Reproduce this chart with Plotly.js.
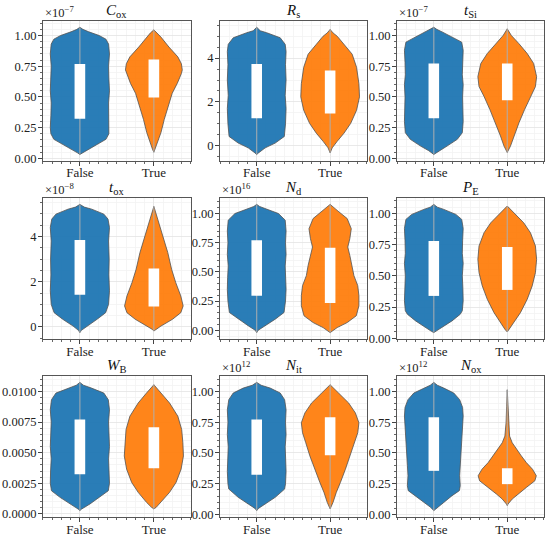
<!DOCTYPE html>
<html>
<head>
<meta charset="utf-8">
<script src="https://cdn.plot.ly/plotly-3.0.1.min.js"></script>
<style>
  html, body { margin: 0; padding: 0; background: #fff; }
  #graph { width: 550px; height: 536px; }
</style>
</head>
<body>
<div id="graph"></div>
<script>
// panel titles and the offset text matplotlib puts above the y axis
const titles = ['<i>C</i><sub>ox</sub>', '<i>R</i><sub>s</sub>', '<i>t</i><sub>Si</sub>',
                '<i>t</i><sub>ox</sub>', '<i>N</i><sub>d</sub>', '<i>P</i><sub>E</sub>',
                '<i>W</i><sub>B</sub>', '<i>N</i><sub>it</sub>', '<i>N</i><sub>ox</sub>'];
const exponents = ['−7', '', '−7', '−8', '16', '', '', '12', '12'];
const categories = ['False', 'True'];

// violin outlines: [value, relative half width], top to bottom
const coxF = [[1.067,0],[1.05,0.1],[1.03,0.3],[1.0,0.65],[0.97,0.88],[0.93,0.97],[0.85,1.0],[0.75,0.97],[0.65,0.98],[0.55,1.0],[0.45,0.97],[0.35,0.98],[0.25,1.0],[0.2,0.98],[0.155,0.88],[0.115,0.6],[0.075,0.3],[0.045,0.08],[0.032,0]];
const coxT = [[1.046,0],[1.02,0.12],[0.987,0.24],[0.906,0.51],[0.826,0.81],[0.77,0.93],[0.72,0.96],[0.69,0.93],[0.61,0.79],[0.53,0.62],[0.42,0.48],[0.316,0.35],[0.21,0.24],[0.129,0.13],[0.07,0.04],[0.05,0]];
const rsF = [[5.41,0],[5.25,0.12],[5.16,0.34],[4.93,0.8],[4.63,0.97],[4.3,1.0],[3.7,0.98],[3.0,1.0],[2.3,0.97],[1.7,1.0],[1.0,0.98],[0.42,0.94],[0.12,0.63],[-0.1,0.29],[-0.33,0.06],[-0.4,0]];
const rsT = [[5.31,0],[5.15,0.1],[5.0,0.24],[4.63,0.47],[4.18,0.75],[3.58,0.9],[2.83,0.98],[2.23,1.0],[1.62,0.9],[1.02,0.7],[0.57,0.47],[0.2,0.24],[-0.1,0.07],[-0.33,0]];
const tsiF = [[1.067,0],[1.05,0.1],[1.027,0.3],[0.987,0.63],[0.946,0.95],[0.88,1.0],[0.78,0.98],[0.68,0.97],[0.6,1.0],[0.5,0.98],[0.4,0.99],[0.3,1.0],[0.209,0.97],[0.155,0.8],[0.1,0.45],[0.062,0.17],[0.032,0]];
const tsiT = [[1.054,0],[1.0,0.14],[0.933,0.4],[0.853,0.68],[0.772,0.9],[0.665,1.0],[0.584,0.96],[0.504,0.79],[0.397,0.59],[0.29,0.4],[0.182,0.23],[0.1,0.11],[0.048,0]];
const toxF = [[5.42,0],[5.3,0.15],[5.21,0.4],[4.99,0.81],[4.77,0.95],[4.4,1.0],[3.8,0.97],[3.0,0.99],[2.3,0.98],[1.6,1.0],[1.0,0.97],[0.63,0.87],[0.34,0.58],[0.04,0.23],[-0.15,0.05],[-0.25,0]];
const toxT = [[5.33,0],[4.77,0.13],[4.03,0.3],[3.29,0.47],[2.55,0.6],[1.96,0.74],[1.37,0.91],[0.93,0.99],[0.63,0.91],[0.34,0.63],[0.04,0.24],[-0.1,0.06],[-0.18,0]];
const ndF = [[1.078,0],[1.06,0.1],[1.043,0.28],[1.0,0.74],[0.943,0.97],[0.85,1.0],[0.75,0.98],[0.65,1.0],[0.55,0.97],[0.45,0.99],[0.35,1.0],[0.25,0.98],[0.152,0.93],[0.095,0.63],[0.037,0.28],[0.0,0.05],[-0.02,0]];
const ndT = [[1.078,0],[1.05,0.12],[1.014,0.3],[0.957,0.58],[0.87,0.72],[0.784,0.67],[0.713,0.6],[0.641,0.67],[0.555,0.75],[0.468,0.81],[0.382,0.94],[0.296,0.98],[0.21,0.98],[0.124,0.89],[0.066,0.58],[0.023,0.24],[-0.02,0]];
const peF = [[1.072,0],[1.05,0.12],[1.032,0.34],[0.992,0.75],[0.952,0.95],[0.88,1.0],[0.78,0.98],[0.68,0.97],[0.6,1.0],[0.5,0.97],[0.4,0.99],[0.3,1.0],[0.22,0.97],[0.192,0.9],[0.139,0.62],[0.085,0.28],[0.055,0.08],[0.045,0]];
const peT = [[1.059,0],[1.005,0.23],[0.925,0.56],[0.845,0.79],[0.739,0.96],[0.632,1.0],[0.525,0.96],[0.419,0.85],[0.312,0.68],[0.205,0.45],[0.125,0.23],[0.072,0.08],[0.05,0]];
const wbF = [[0.01073,0],[0.0105,0.12],[0.01027,0.39],[0.00986,0.81],[0.00932,0.96],[0.0085,1.0],[0.0075,0.97],[0.0065,0.99],[0.0055,1.0],[0.0045,0.97],[0.0035,0.99],[0.0025,1.0],[0.00189,0.96],[0.00135,0.67],[0.00081,0.34],[0.0004,0.06],[0.00027,0]];
const wbT = [[0.01054,0],[0.00986,0.25],[0.00905,0.53],[0.00797,0.81],[0.00689,0.94],[0.00581,0.98],[0.00473,1.0],[0.00365,0.92],[0.00257,0.75],[0.00176,0.53],[0.00095,0.25],[0.00054,0.08],[0.00041,0]];
const nitF = [[1.073,0],[1.05,0.15],[1.027,0.46],[0.987,0.8],[0.933,0.95],[0.85,1.0],[0.75,0.98],[0.65,1.0],[0.55,0.97],[0.45,0.99],[0.35,1.0],[0.25,0.98],[0.207,0.95],[0.14,0.63],[0.086,0.29],[0.05,0.06],[0.032,0]];
const nitT = [[1.054,0],[0.987,0.29],[0.906,0.63],[0.825,0.86],[0.745,0.98],[0.664,0.94],[0.583,0.83],[0.476,0.69],[0.368,0.52],[0.261,0.35],[0.18,0.21],[0.1,0.1],[0.046,0]];
const noxF = [[1.073,0],[1.05,0.12],[1.027,0.34],[0.987,0.68],[0.933,0.88],[0.87,0.98],[0.8,1.0],[0.7,0.97],[0.6,0.95],[0.5,0.93],[0.4,0.9],[0.315,0.88],[0.234,0.9],[0.194,0.87],[0.153,0.62],[0.1,0.34],[0.059,0.11],[0.032,0]];
const noxT = [[1.013,0],[0.88,0.02],[0.745,0.04],[0.637,0.08],[0.583,0.17],[0.53,0.31],[0.476,0.48],[0.422,0.65],[0.368,0.86],[0.315,0.99],[0.274,0.94],[0.22,0.65],[0.167,0.37],[0.126,0.17],[0.086,0.03],[0.073,0]];

// interquartile boxes [q1, q3]
const boxFalse = [[0.322,0.767],[1.25,3.73],[0.327,0.772],[1.42,3.85],[0.296,0.77],[0.339,0.779],[0.00324,0.0077],[0.323,0.771],[0.355,0.79]];
const boxTrue  = [[0.496,0.804],[1.47,3.43],[0.472,0.772],[0.9,2.58],[0.233,0.707],[0.387,0.731],[0.00373,0.00708],[0.481,0.79],[0.247,0.376]];

const violinsFalse = [coxF, rsF, tsiF, toxF, ndF, peF, wbF, nitF, noxF];
const violinsTrue  = [coxT, rsT, tsiT, toxT, ndT, peT, wbT, nitT, noxT];

const colors = ['#1f77b4', '#ff7f0e'];
const halfWidth = 0.4;
const boxHalf = 0.072;
const serif = '"Liberation Serif", "DejaVu Serif", serif';

const colDomains = [[0.078, 0.347], [0.4, 0.667], [0.722, 0.989]];
const rowDomains = [[0.700, 0.961], [0.3675, 0.6306], [0.0354, 0.2985]];
// tick step, minor step, format per panel
const tickSteps = [[0.25,0.05,'.2f'],[2,0.5,'d'],[0.25,0.05,'.2f'],[2,0.5,'d'],[0.25,0.05,'.2f'],
                   [0.25,0.05,'.2f'],[0.0025,0.0005,'.4f'],[0.25,0.05,'.2f'],[0.25,0.05,'.2f']];

function outline(profile, center) {
    const right = profile.map(p => center + p[1] * halfWidth);
    const left = profile.map(p => center - p[1] * halfWidth).reverse();
    const ys = profile.map(p => p[0]);
    return { x: right.concat(left), y: ys.concat(ys.slice().reverse()) };
}

const data = [];
const layout = {
    width: 550, height: 536,
    margin: { l: 0, r: 0, t: 0, b: 0 },
    paper_bgcolor: '#fff', plot_bgcolor: '#fff',
    showlegend: false,
    font: { family: serif, size: 13, color: '#222' },
    annotations: []
};

for (let i = 0; i < 9; i++) {
    const n = i + 1;
    const xa = n === 1 ? 'x' : 'x' + n;
    const ya = n === 1 ? 'y' : 'y' + n;
    const groups = [violinsFalse[i], violinsTrue[i]];
    const boxes = [boxFalse[i], boxTrue[i]];
    let lo = Infinity, hi = -Infinity;

    groups.forEach((prof, c) => {
        const o = outline(prof, c);
        data.push({
            type: 'scatter', mode: 'lines', x: o.x, y: o.y, xaxis: xa, yaxis: ya,
            fill: 'toself', fillcolor: colors[c], opacity: 0.95,
            line: { color: '#4a4a4a', width: 0.8 }, hoverinfo: 'skip'
        });
        const top = prof[0][0], bottom = prof[prof.length - 1][0];
        lo = Math.min(lo, bottom); hi = Math.max(hi, top);
        // whisker line through the violin
        data.push({
            type: 'scatter', mode: 'lines', x: [c, c], y: [bottom, top], xaxis: xa, yaxis: ya,
            line: { color: 'rgba(175,175,175,0.9)', width: 1.1 }, hoverinfo: 'skip'
        });
        // white interquartile box
        const b = boxes[c];
        data.push({
            type: 'scatter', mode: 'lines', xaxis: xa, yaxis: ya,
            x: [c - boxHalf, c + boxHalf, c + boxHalf, c - boxHalf, c - boxHalf],
            y: [b[0], b[0], b[1], b[1], b[0]],
            fill: 'toself', fillcolor: '#ffffff', line: { width: 0, color: '#ffffff' }, hoverinfo: 'skip'
        });
    });

    const pad = (hi - lo) * 0.05;
    const step = tickSteps[i];
    const row = Math.floor(i / 3), col = i % 3;
    layout[n === 1 ? 'xaxis' : 'xaxis' + n] = {
        domain: colDomains[col], anchor: ya, range: [-0.5, 1.5],
        tickvals: [0, 1], ticktext: categories, ticks: 'outside', ticklen: 4, tickcolor: '#444',
        ticklabelstandoff: -4,
        showgrid: true, gridcolor: '#e4e4e4', gridwidth: 0.8, zeroline: false,
        showline: true, mirror: true, linecolor: '#555', linewidth: 1,
        minor: { dtick: 0.125, tick0: 0, ticks: 'outside', ticklen: 2, tickcolor: '#666', showgrid: true, gridcolor: '#f3f3f3' },
        tickfont: { family: serif, size: 13, color: '#222' }, fixedrange: true
    };
    layout[n === 1 ? 'yaxis' : 'yaxis' + n] = {
        domain: rowDomains[row], anchor: xa, range: [lo - pad, hi + pad],
        dtick: step[0], tick0: 0, tickformat: step[2], ticks: 'outside', ticklen: 4, tickcolor: '#444',
        ticklabelstandoff: -1,
        showgrid: true, gridcolor: '#e4e4e4', gridwidth: 0.8, zeroline: false,
        showline: true, mirror: true, linecolor: '#555', linewidth: 1,
        minor: { dtick: step[1], tick0: 0, ticks: 'outside', ticklen: 2, tickcolor: '#666', showgrid: true, gridcolor: '#f3f3f3' },
        tickfont: { family: serif, size: 12.5, color: '#222' }, fixedrange: true
    };
    layout.annotations.push({
        text: titles[i], xref: xa + ' domain', yref: ya + ' domain', x: 0.5, y: 1,
        xanchor: 'center', yanchor: 'bottom', yshift: -1, showarrow: false,
        font: { family: serif, size: 15, color: '#111' }
    });
    if (exponents[i]) {
        layout.annotations.push({
            text: '×10<sup>' + exponents[i] + '</sup>', xref: xa + ' domain', yref: ya + ' domain',
            x: 0, y: 1, xanchor: 'left', yanchor: 'bottom', yshift: -1, showarrow: false,
            font: { family: serif, size: 12.5, color: '#222' }
        });
    }
}

Plotly.newPlot('graph', data, layout, { displayModeBar: false, staticPlot: true });
</script>
</body>
</html>
